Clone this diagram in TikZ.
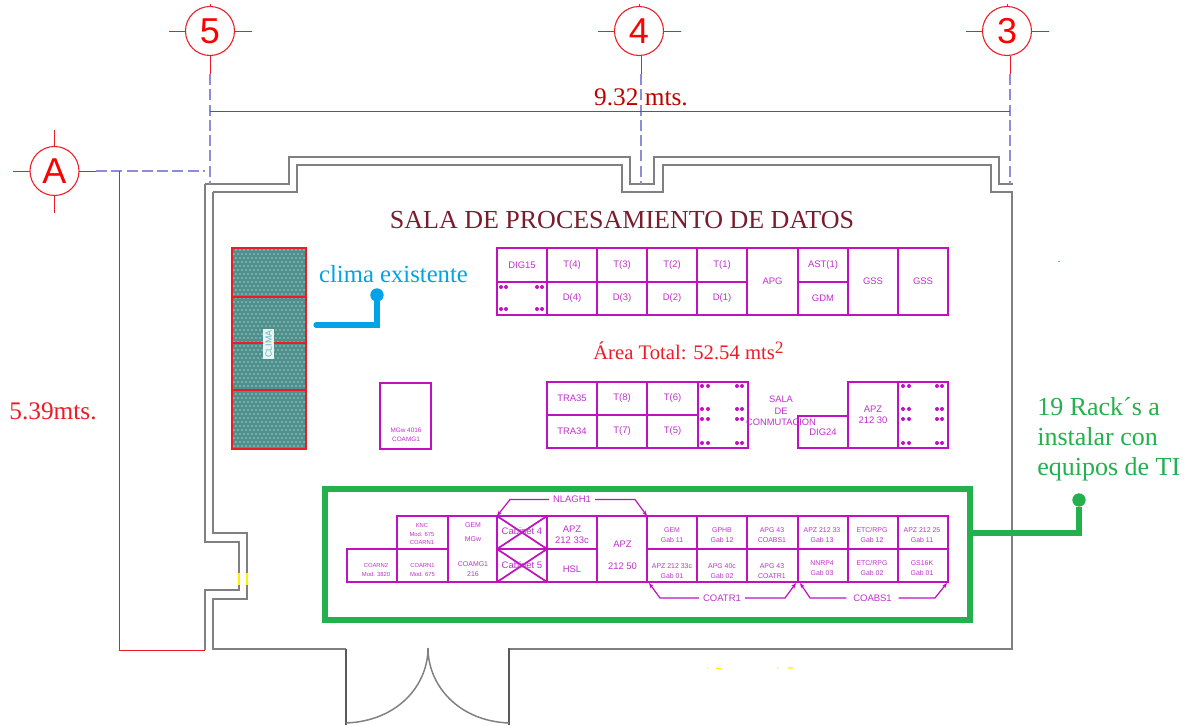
\documentclass[tikz,border=0pt]{standalone}
\usepackage{fontspec}
\setmainfont{Liberation Serif}
\setsansfont{Liberation Sans}
\usetikzlibrary{arrows.meta}
\definecolor{mg}{HTML}{C010C0}
\definecolor{mgtext}{HTML}{C030CC}
\definecolor{wallc}{HTML}{808080}
\definecolor{dashc}{HTML}{8C8CDC}
\definecolor{redc}{HTML}{ED1C24}
\definecolor{greenc}{HTML}{22B14C}
\definecolor{bluec}{HTML}{00A2E8}
\definecolor{titlec}{HTML}{7B1C2E}
\definecolor{tealc}{HTML}{4F8F8C}
\definecolor{teallight}{HTML}{A6CCCA}
\newcommand\rackcell[6][]{%
  \node[rackbox,#1,minimum width={(#5-#3)*0.75pt},minimum height={(#6-#4)*0.75pt},anchor=north west] (#2) at (#3,#4) {};}
\tikzset{
  rackbox/.style={draw=mg,line width=1.4pt,inner sep=0pt,outer sep=0pt,text=mgtext,align=center},
  racklabel/.style={inner sep=0pt,text=mgtext,align=center,font=\sffamily\fontsize{7.1}{8.6}\selectfont},
  bracketlabel/.style={racklabel,inner xsep=3pt},
  sizeC/.style={font=\sffamily\fontsize{5.2}{7}\selectfont},
  sizeD/.style={font=\sffamily\fontsize{4.4}{6.2}\selectfont},
  wall/.style={draw=wallc,line width=1.6pt,line join=miter},
  doorjamb/.style={draw=wallc!70!black,line width=2pt},
  doorarc/.style={draw=wallc,line width=1.1pt},
  axis/.style={draw=redc,circle,line width=0.8pt,minimum size=36.75pt,inner sep=0pt,outer sep=0pt,text=red,font=\sffamily\fontsize{27}{27}\selectfont},
  axistick/.style={draw=redc,line width=0.75pt},
  axisdash/.style={draw=dashc,line width=1.1pt,dash pattern=on 8.25pt off 3.2pt},
  dimline/.style={draw=redc,line width=0.65pt},
  rackarrow/.style={draw=mg,line width=0.9pt,{Stealth[length=4pt,width=3pt]}-},
  callout/.style={line width=3.8pt,line join=miter,line cap=round},
}
\begin{document}
\begin{tikzpicture}[x=0.75pt,y=-0.75pt]
\useasboundingbox (0,0) rectangle (1189,725);
\fill[white] (0,0) rectangle (1189,725);

% ---- walls
\draw[wall] (205,184) -- (289,184) -- (289,157) -- (630,157) -- (630,184) -- (654,184) -- (654,157) -- (999,157) -- (999,184) -- (1013,184);
\draw[wall] (213,192) -- (297,192) -- (297,165) -- (622,165) -- (622,192) -- (663,192) -- (663,165) -- (991,165) -- (991,192) -- (1012,192) -- (1012,210);
\draw[draw=wallc,line width=0.8pt] (1012,210) -- (1012,649) -- (509,649);
\draw[wall] (205,184) -- (205,542) -- (239,542) -- (239,590) -- (205,590) -- (205,650);
\draw[wall] (213,192) -- (213,533) -- (247,533) -- (247,599) -- (213,599) -- (213,649) -- (346,649);
\draw[doorjamb] (346,649) -- (346,725);
\draw[doorjamb] (509,725) -- (509,648);
\draw[doorarc] (346,723) .. controls (398,721) and (428,685) .. (428,648);
\draw[doorarc] (509,723) .. controls (458,721) and (428,685) .. (428,648);
\draw[yellow,line width=1.4pt] (239,573) -- (239,585) (247,573) -- (247,585);
\draw[yellow,line width=1pt] (707,668) -- (708,668) (716,668) -- (721,669) (777,668) -- (778,668) (788,668) -- (793,668);
\fill[greenc!70!white] (1058,261) rectangle (1060,262);

% ---- axes
\node[axis] (ax5) at (210,31) {5};
\node[axis] (ax4) at (639,31) {4};
\node[axis] (ax3) at (1007,31) {3};
\node[axis] (axA) at (54.5,171) {A};
\foreach \n in {ax5,ax4,ax3}{
  \draw[axistick] (\n.west) -- ++(-17,0);
  \draw[axistick] (\n.east) -- ++(17,0);
  \draw[axistick] (\n.north) -- ++(0,-3);
}
\coordinate (d5) at (210,111);
\coordinate (d3) at (1010,111);
\coordinate (w5) at (210,184);
\coordinate (w4) at (641,184);
\coordinate (w3) at (1010,184);
\coordinate (f5) at (210,74);
\coordinate (f4) at (641,74);
\coordinate (f3) at (1010,74);
\draw[axistick] (210,55.5) -- (f5);
\draw[axistick] (641,55.5) -- (f4);
\draw[axistick] (1010,55.5) -- (f3);
\draw[axisdash] (f5) -- (w5);
\draw[axisdash] (f4) -- (w4);
\draw[axisdash] (f3) -- (w3);
\draw[dimline] (d5) -- (d3);
\draw[axistick] (axA.west) -- ++(-17,0);
\draw[axistick] (axA.east) -- ++(17,0);
\draw[axistick] (axA.north) -- ++(0,-17);
\draw[axistick] (axA.south) -- ++(0,17);
\coordinate (aend) at (205,171);
\coordinate (astart) at (96,171);
\draw[axisdash] (astart) -- (aend);
\coordinate (v1) at (119,171);
\coordinate (v2) at (205,650);
\draw[dimline] (v1) |- (v2);

% ---- dimension / free texts
\node[text=titlec,inner sep=0pt,font=\fontsize{19.5}{22}\selectfont] (title) at (622,220) {SALA DE PROCESAMIENTO DE DATOS};
\node[text=red!75!black,inner sep=0pt,font=\fontsize{19}{22}\selectfont] (dimw) at (641,97) {9.32 mts.};
\node[text=redc,inner sep=0pt,font=\fontsize{19}{22}\selectfont] (dimh) at (53,411) {5.39mts.};
\node[text=redc,inner sep=0pt,anchor=west,font=\fontsize{15.5}{20}\selectfont] (area) at (593,351) {Área Total: 52.54 mts\raisebox{5pt}{\fontsize{13}{13}\selectfont 2}};
\node[text=bluec,inner sep=0pt,font=\fontsize{18.5}{20}\selectfont] (climatxt) at (393.5,274) {clima existente};
\node[text=greenc,inner sep=0pt,align=left,anchor=north west,font=\fontsize{19.5}{22.5}\selectfont] (racktxt) at (1037,397) {19 Rack´s a\\instalar con\\equipos de TI};

% ---- clima unit
\fill[tealc] (232,248) rectangle (306,449);
\foreach \yy [count=\r] in {250,254,...,448}{
  \pgfmathsetmacro\ofs{mod(\r,2)*2}
  \foreach \xx in {234,238,...,304}{
    \fill[teallight] (\xx+\ofs,\yy) circle[radius=0.85];
  }
}
\node[draw=redc,line width=2.2pt,outer sep=0pt,minimum width=55.5pt,minimum height=150.75pt,inner sep=0pt,anchor=north west] (clima) at (232,248) {};
\coordinate (cl1) at (232,297); \coordinate (cl1e) at (306,297);
\coordinate (cl2) at (232,343); \coordinate (cl2e) at (306,343);
\coordinate (cl3) at (232,390); \coordinate (cl3e) at (306,390);
\draw[redc,line width=1.4pt] (cl1) -- (cl1e);
\draw[redc,line width=1.4pt] (cl2) -- (cl2e);
\draw[redc,line width=1.4pt] (cl3) -- (cl3e);
\node[fill=white!92!teal,text=white!40!teal,rotate=90,inner xsep=1pt,inner ysep=1.6pt,font=\sffamily\fontsize{6.6}{7}\selectfont] (climalbl) at (268.5,344) {CLIMA};
\coordinate (bstart) at (316,325);
\node[fill=bluec,circle,inner sep=0pt,minimum size=10pt] (bdot) at (377,295) {};
\draw[bluec,callout] (bstart) -| (bdot);

% ---- top row
\rackcell[line width=1pt]{dige}{497}{282}{547}{315}
\rackcell{dig}{497}{248}{547}{282}
\rackcell{t4}{547}{248}{597}{282}
\rackcell{t3}{597}{248}{647}{282}
\rackcell{t2}{647}{248}{697}{282}
\rackcell{t1}{697}{248}{747}{282}
\rackcell{d4}{547}{282}{597}{315}
\rackcell{d3}{597}{282}{647}{315}
\rackcell{d2}{647}{282}{697}{315}
\rackcell{d1}{697}{282}{747}{315}
\rackcell{apg}{747}{248}{798}{315}
\rackcell{ast}{798}{248}{848}{282}
\rackcell{gdm}{798}{282}{848}{315}
\rackcell{gss1}{848}{248}{898}{315}
\rackcell{gss2}{898}{248}{948}{315}
\node[racklabel] (ldig) at (dig) {DIG15};
\node[racklabel] (lt4) at (t4) {T(4)};
\node[racklabel] (lt3) at (t3) {T(3)};
\node[racklabel] (lt2) at (t2) {T(2)};
\node[racklabel] (lt1) at (t1) {T(1)};
\node[racklabel] (ld4) at (d4) {D(4)};
\node[racklabel] (ld3) at (d3) {D(3)};
\node[racklabel] (ld2) at (d2) {D(2)};
\node[racklabel] (ld1) at (d1) {D(1)};
\node[racklabel] (lapg) at (apg) {APG};
\node[racklabel] (last) at (ast) {AST(1)};
\node[racklabel] (lgdm) at (gdm) {GDM};
\node[racklabel] (lgss1) at (gss1) {GSS};
\node[racklabel] (lgss2) at (gss2) {GSS};
\foreach \px/\py in {501/287,506/287,537/287,542/287,501/309,506/309,537/309,542/309}{
  \fill[mg] (\px,\py) circle[radius=2];
}

% ---- middle row
\rackcell{tra35}{547}{382}{597}{415}
\rackcell{tra34}{547}{415}{597}{448}
\rackcell{t8}{597}{382}{647}{415}
\rackcell{t7}{597}{415}{647}{448}
\rackcell{t6}{647}{382}{698}{415}
\rackcell{t5}{647}{415}{698}{448}
\rackcell[line width=1pt]{midbox}{698}{382}{748}{448}
\rackcell{dig24}{798}{416}{848}{448}
\rackcell{apz30}{848}{382}{898}{448}
\rackcell[line width=1pt]{rightbox}{898}{382}{948}{448}
\node[racklabel] (ltra35) at (tra35) {TRA35};
\node[racklabel] (ltra34) at (tra34) {TRA34};
\node[racklabel] (lt8) at (t8) {T(8)};
\node[racklabel] (lt7) at (t7) {T(7)};
\node[racklabel] (lt6) at (t6) {T(6)};
\node[racklabel] (lt5) at (t5) {T(5)};
\node[racklabel] (ldig24) at (823,432) {DIG24};
\node[racklabel] (lapz30) at (873,415) {APZ\\212 30};
\node[racklabel,font=\sffamily\fontsize{7}{8.8}\selectfont] (lsala) at (781,411) {SALA\\DE\\CONMUTACION};
\foreach \py in {386,409,419,443}{
  \foreach \px in {702,708,737,742,903,909,937,942}{
    \fill[mg] (\px,\py) circle[radius=2];
  }
}
\rackcell[line width=1.1pt]{mgw}{380}{383}{431}{449}
\node[racklabel,font=\sffamily\fontsize{4.8}{6.6}\selectfont] (lmgw) at (406,435) {MGw 4016\\COAMG1};

% ---- bottom row
\node[draw=greenc,line width=5.2pt,outer sep=0pt,minimum width=483.75pt,minimum height=98.25pt,inner sep=0pt,anchor=north west] (frame) at (325,489) {};
\rackcell{coarn2}{347}{549}{397}{582}
\rackcell{knc}{397}{516}{448}{549}
\rackcell{coarn1}{397}{549}{448}{582}
\rackcell{gem}{448}{516}{497}{582}
\rackcell[line width=1.2pt]{cab4}{497}{516}{547}{549}
\rackcell[line width=1.2pt]{cab5}{497}{549}{547}{582}
\rackcell{apz33}{547}{516}{597}{549}
\rackcell{hsl}{547}{549}{597}{582}
\rackcell{apz50}{597}{516}{647}{582}
\draw[mg,line width=1.3pt] (cab4.north west) -- (cab4.south east) (cab4.north east) -- (cab4.south west);
\draw[mg,line width=1.3pt] (cab5.north west) -- (cab5.south east) (cab5.north east) -- (cab5.south west);
\rackcell{a1}{647}{516}{697}{549}
\rackcell{a2}{697}{516}{747}{549}
\rackcell{a3}{747}{516}{798}{549}
\rackcell{a4}{798}{516}{848}{549}
\rackcell{a5}{848}{516}{898}{549}
\rackcell{a6}{898}{516}{948}{549}
\rackcell{b1}{647}{549}{697}{582}
\rackcell{b2}{697}{549}{747}{582}
\rackcell{b3}{747}{549}{798}{582}
\rackcell{b4}{798}{549}{848}{582}
\rackcell{b5}{848}{549}{898}{582}
\rackcell{b6}{898}{549}{948}{582}
\node[racklabel,sizeD] (lcoarn2) at (376,570) {COARN2\\Mod. 3820};
\node[racklabel,sizeD] (lknc) at (422,534) {KNC\\Mod. 675\\COARN1};
\node[racklabel,sizeD] (lcoarn1) at (422.5,570) {COARN1\\Mod. 675};
\node[racklabel,sizeC] (lgem1) at (473,525) {GEM};
\node[racklabel,sizeC] (lgem2) at (473,539) {MGw};
\node[racklabel,sizeC] (lgem3) at (473,569) {COAMG1\\216};
\node[racklabel] (lcab4) at (522,531) {Cabinet 4};
\node[racklabel] (lcab5) at (522,565) {Cabinet 5};
\node[racklabel] (lapz33) at (572,535) {APZ\\212 33c};
\node[racklabel] (lhsl) at (572,569) {HSL};
\node[racklabel] (lapz50a) at (622.5,544) {APZ};
\node[racklabel] (lapz50b) at (622.5,566) {212 50};
\node[racklabel,sizeC] (la1) at (672,535) {GEM\\Gab 11};
\node[racklabel,sizeC] (la2) at (722,535) {GPHB\\Gab 12};
\node[racklabel,sizeC] (la3) at (772,535) {APG 43\\COABS1};
\node[racklabel,sizeC] (la4) at (822,535) {APZ 212 33\\Gab 13};
\node[racklabel,sizeC] (la5) at (872,535) {ETC/RPG\\Gab 12};
\node[racklabel,sizeC] (la6) at (922,535) {APZ 212 25\\Gab 11};
\node[racklabel,sizeC] (lb1) at (672,571) {APZ 212 33c\\Gab 01};
\node[racklabel,sizeC] (lb2) at (722,571) {APG 40c\\Gab 02};
\node[racklabel,sizeC] (lb3) at (772,571) {APG 43\\COATR1};
\node[racklabel,sizeC] (lb4) at (822,568) {NNRP4\\Gab 03};
\node[racklabel,sizeC] (lb5) at (872,568) {ETC/RPG\\Gab 02};
\node[racklabel,sizeC] (lb6) at (922,568) {GS16K\\Gab 01};

\node[bracketlabel] (nlagh) at (572,499.5) {NLAGH1};
\node[bracketlabel] (coatr) at (722,598) {COATR1};
\node[bracketlabel,inner xsep=5pt] (coabs) at (872.5,598) {COABS1};
\draw[rackarrow] (cab4.north west) -- (510,499.5) -- (nlagh.west);
\draw[rackarrow] (a1.north west) -- (635,499.5) -- (nlagh.east);
\draw[rackarrow] (b1.south west) ++(2,1) -- (660,598) -- (coatr.west);
\draw[rackarrow] (b3.south east) ++(-2,1) -- (785,598) -- (coatr.east);
\draw[rackarrow] (b4.south west) ++(2,1) -- (810,598) -- (coabs.west);
\draw[rackarrow] (b6.south east) ++(-1,1) -- (935,598) -- (coabs.east);

% ---- green callout
\coordinate (gstart) at (972,533);
\node[fill=greenc,circle,inner sep=0pt,minimum size=10pt] (gdot) at (1079,500) {};
\draw[greenc,callout,line cap=butt] (gstart) -| (gdot);
\end{tikzpicture}
\end{document}
